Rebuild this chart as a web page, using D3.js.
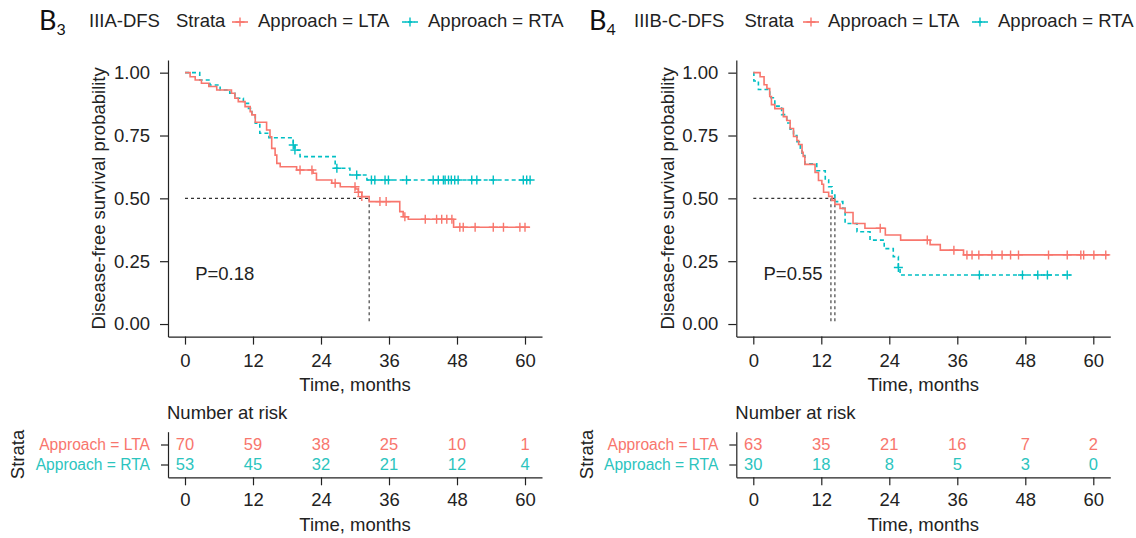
<!DOCTYPE html>
<html>
<head>
<meta charset="utf-8">
<script src="https://cdn.jsdelivr.net/npm/d3@7"></script>
<style>
  body { margin: 0; background: #fff; }
  svg text { font-family: "Liberation Sans", Arial, sans-serif; fill: #222; }
</style>
</head>
<body>
<svg id="chart" width="1136" height="538"></svg>
<script>
// ---- data ----
const timeTicks = [0, 12, 24, 36, 48, 60];
const survTicks = [0, 0.25, 0.5, 0.75, 1];
const strata = ["Approach = LTA", "Approach = RTA"];

// B3: IIIA-DFS   [time in months, survival]
const lta3Steps = [[0, 1], [0.9, 0.984], [1.8, 0.971], [2.9, 0.958], [4.2, 0.945], [5.6, 0.931], [8.2, 0.918],
  [8.8, 0.898], [9.4, 0.885], [10.6, 0.865], [11.5, 0.845], [11.8, 0.832], [12.4, 0.803], [14.4, 0.772],
  [15.0, 0.745], [15.3, 0.699], [15.9, 0.672], [16.2, 0.639], [16.8, 0.626], [19.7, 0.613], [22.6, 0.60],
  [23.2, 0.573], [25.9, 0.56], [27.4, 0.546], [30.1, 0.537], [30.6, 0.524], [31.2, 0.507], [32.5, 0.487],
  [37.9, 0.447], [38.5, 0.427], [39.4, 0.417], [47.4, 0.385]];
const lta3End = 60.9;
const lta3Censor = [20.3, 22.4, 26.5, 30.0, 30.6, 31.2, 34.4, 35.5, 38.8, 42.4, 44.4, 45.3, 46.2, 47.1,
  48.5, 49.1, 51.2, 54.4, 56.2, 59.1, 60];

const rta3Steps = [[0, 1], [2.6, 0.971], [4.4, 0.951], [6.2, 0.931], [7.9, 0.918], [8.8, 0.898], [10.3, 0.878],
  [11.2, 0.858], [11.8, 0.832], [12.4, 0.799], [13.2, 0.759], [14.8, 0.741], [19.1, 0.712], [19.4, 0.692],
  [20.3, 0.666], [26.5, 0.62], [29.1, 0.593], [32.1, 0.573]];
const rta3End = 61.2;
const rta3Censor = [19.1, 19.4, 26.8, 30.3, 32.9, 33.5, 35.3, 35.9, 39.1, 43.8, 44.7, 45.6, 45.9, 46.5, 47.0,
  47.6, 48.2, 50.6, 51.5, 54.4, 59.7, 60.3, 60.9];

const riskLta3 = [70, 59, 38, 25, 10, 1];
const riskRta3 = [53, 45, 32, 21, 12, 4];
const medians3 = [32.5];

// B4: IIIB-C-DFS
const lta4Steps = [[0, 1], [1.2, 0.984], [1.9, 0.952], [2.4, 0.937], [2.9, 0.905], [3.2, 0.873], [3.8, 0.857],
  [5.3, 0.825], [5.9, 0.81], [6.5, 0.778], [7.1, 0.746], [7.7, 0.73], [8.0, 0.714], [8.6, 0.683], [8.8, 0.667],
  [9.1, 0.635], [10.9, 0.603], [11.5, 0.571], [12.1, 0.556], [12.4, 0.524], [13.3, 0.508], [13.9, 0.492],
  [14.4, 0.476], [15.3, 0.46], [16.2, 0.444], [17.6, 0.40], [19.7, 0.381], [23.3, 0.354], [26.0, 0.334],
  [31.2, 0.316], [33.0, 0.294], [37.1, 0.275]];
const lta4End = 62.8;
const lta4Censor = [22.4, 30.7, 35.4, 37.7, 38.6, 39.8, 42.1, 43.9, 45.4, 46.8, 52.1, 55.4, 57.8, 58.3, 60.1, 62.2];

const rta4Steps = [[0, 1], [0.1, 0.967], [0.9, 0.933], [2.9, 0.9], [3.8, 0.867], [5.0, 0.833], [5.9, 0.8],
  [6.5, 0.775], [7.1, 0.75], [7.7, 0.725], [8.3, 0.7], [8.6, 0.67], [9.1, 0.637], [11.2, 0.61], [12.7, 0.573],
  [13.3, 0.546], [13.9, 0.513], [14.4, 0.487], [15.8, 0.46], [16.2, 0.40], [18.3, 0.367], [20.6, 0.334],
  [23.1, 0.30], [24.7, 0.268], [25.6, 0.225], [25.9, 0.195]];
const rta4End = 56;
const rta4Censor = [25.6, 39.9, 47.5, 50.2, 51.9, 55.4];

const riskLta4 = [63, 35, 21, 16, 7, 2];
const riskRta4 = [30, 18, 8, 5, 3, 0];
const medians4 = [13.7, 14.4];

const colors = { lta: "#F8766D", rta: "#00BFC4", rtaText: "#2CC4BE" };

const panels = [
  { sub: "3", title: "IIIA-DFS", p: "P=0.18", left: 168,
    lta: lta3Steps, ltaEnd: lta3End, ltaCens: lta3Censor,
    rta: rta3Steps, rtaEnd: rta3End, rtaCens: rta3Censor,
    riskLta: riskLta3, riskRta: riskRta3, medians: medians3,
    head: { b: 39, title: 89, strata: 176, key1: 240, lab1: 258, key2: 410, lab2: 428 } },
  { sub: "4", title: "IIIB-C-DFS", p: "P=0.55", left: 736.3,
    lta: lta4Steps, ltaEnd: lta4End, ltaCens: lta4Censor,
    rta: rta4Steps, rtaEnd: rta4End, rtaCens: rta4Censor,
    riskLta: riskLta4, riskRta: riskRta4, medians: medians4,
    head: { b: 589, title: 634, strata: 744.5, key1: 811, lab1: 828, key2: 980, lab2: 998 } }
];

// ---- drawing ----
const svg = d3.select("#chart");
const fs = 18.5;
const cross = "M-4.5,0H4.5M0,-4.5V4.5";

function survAt(steps, t) {
  let s = steps[0][1];
  for (const d of steps) { if (d[0] <= t) s = d[1]; }
  return s;
}

function drawPanel(p) {
  const g = svg.append("g");
  const x = d3.scaleLinear().domain([-3, 63]).range([p.left, p.left + 374]);
  const y = d3.scaleLinear().domain([-0.05, 1.05]).range([336.6, 60.1]);

  // header
  const h = p.head;
  const hy = 21;
  const bt = g.append("text").attr("x", h.b).attr("y", hy + 9)
    .style("font-family", "Lato, 'Open Sans', sans-serif").style("font-size", "27px").style("fill", "#111");
  bt.append("tspan").text("B");
  bt.append("tspan").attr("dy", 5).style("font-size", "16px").text(p.sub);

  g.append("text").attr("x", h.title).attr("y", hy).attr("dy", "0.35em").style("font-size", fs + "px").text(p.title);
  g.append("text").attr("x", h.strata).attr("y", hy).attr("dy", "0.35em").style("font-size", fs + "px").text("Strata");
  [[h.key1, colors.lta, null], [h.key2, colors.rta, "4,2"]].forEach(([kx, c, dash]) => {
    g.append("line").attr("x1", kx - 8).attr("x2", kx + 8).attr("y1", hy + 1).attr("y2", hy + 1)
      .attr("stroke", c).attr("stroke-width", 1.6).attr("stroke-dasharray", dash);
    g.append("path").attr("d", cross).attr("transform", `translate(${kx},${hy + 1})`)
      .attr("stroke", c).attr("stroke-width", 1.4).attr("fill", "none");
  });
  g.append("text").attr("x", h.lab1).attr("y", hy).attr("dy", "0.35em").style("font-size", fs + "px").text(strata[0]);
  g.append("text").attr("x", h.lab2).attr("y", hy).attr("dy", "0.35em").style("font-size", fs + "px").text(strata[1]);

  // axes
  const yAxis = g.append("g").attr("transform", `translate(${x(-3)},0)`)
    .call(d3.axisLeft(y).tickValues(survTicks).tickFormat(d3.format(".2f")).tickSize(8).tickPadding(10).tickSizeOuter(0));
  const xAxis = g.append("g").attr("transform", `translate(0,${y(-0.05)})`)
    .call(d3.axisBottom(x).tickValues(timeTicks).tickSize(8).tickPadding(9).tickSizeOuter(0));
  [yAxis, xAxis].forEach(a => {
    a.selectAll("path,line").attr("stroke", "#222").attr("stroke-width", 1.2);
    a.selectAll("text").style("font-size", fs + "px");
  });

  g.append("text").attr("transform", `translate(${p.left - 69},${y(0.5)}) rotate(-90)`)
    .attr("text-anchor", "middle").attr("dy", "0.35em").style("font-size", fs + "px")
    .text("Disease-free survival probability");
  g.append("text").attr("x", x(30)).attr("y", 390.5).attr("text-anchor", "middle")
    .style("font-size", fs + "px").text("Time, months");

  // median reference lines
  const medMax = d3.max(p.medians);
  g.append("line").attr("x1", x(0)).attr("x2", x(medMax)).attr("y1", y(0.5)).attr("y2", y(0.5))
    .attr("stroke", "#333").attr("stroke-width", 1.1).attr("stroke-dasharray", "3,3");
  p.medians.forEach(m => {
    g.append("line").attr("x1", x(m)).attr("x2", x(m)).attr("y1", y(0.5)).attr("y2", y(0))
      .attr("stroke", "#333").attr("stroke-width", 1.1).attr("stroke-dasharray", "3,3");
  });

  // curves
  const line = d3.line().x(d => x(d[0])).y(d => y(d[1])).curve(d3.curveStepAfter);
  const series = [
    { steps: p.rta, end: p.rtaEnd, cens: p.rtaCens, color: colors.rta, dash: "4,3" },
    { steps: p.lta, end: p.ltaEnd, cens: p.ltaCens, color: colors.lta, dash: null }
  ];
  series.forEach(s => {
    const pts = s.steps.concat([[s.end, s.steps[s.steps.length - 1][1]]]);
    g.append("path").datum(pts).attr("d", line).attr("fill", "none")
      .attr("stroke", s.color).attr("stroke-width", 1.6).attr("stroke-dasharray", s.dash);
    g.selectAll(null).data(s.cens).enter().append("path")
      .attr("d", cross)
      .attr("transform", t => `translate(${x(t)},${y(survAt(s.steps, t))})`)
      .attr("stroke", s.color).attr("stroke-width", 1.4).attr("fill", "none");
  });

  g.append("text").attr("x", x(1.8)).attr("y", y(0.2)).attr("dy", "0.35em")
    .style("font-size", fs + "px").text(p.p);

  // risk table
  g.append("text").attr("x", x(-3) - 1).attr("y", 413).attr("dy", "0.35em")
    .style("font-size", fs + "px").text("Number at risk");
  const ty = d3.scalePoint().domain(strata).range([431.7, 477.3]).padding(0.64);
  const tyAxis = g.append("g").attr("transform", `translate(${x(-3)},0)`)
    .call(d3.axisLeft(ty).tickSize(7).tickPadding(11).tickSizeOuter(0));
  tyAxis.selectAll("text").style("font-size", "15.6px")
    .style("fill", (d, i) => i === 0 ? colors.lta : colors.rtaText);
  const txAxis = g.append("g").attr("transform", "translate(0,477.3)")
    .call(d3.axisBottom(x).tickValues(timeTicks).tickSize(8).tickPadding(8).tickSizeOuter(0));
  txAxis.selectAll("text").style("font-size", fs + "px");
  [tyAxis, txAxis].forEach(a => a.selectAll("path,line").attr("stroke", "#222").attr("stroke-width", 1.2));

  const rows = [[p.riskLta, strata[0], colors.lta], [p.riskRta, strata[1], colors.rtaText]];
  rows.forEach(([vals, key, c]) => {
    g.selectAll(null).data(vals).enter().append("text")
      .attr("x", (d, i) => x(timeTicks[i])).attr("y", ty(key)).attr("dy", "0.36em")
      .attr("text-anchor", "middle").style("font-size", "16.5px").style("fill", c)
      .text(d => d);
  });

  g.append("text").attr("transform", `translate(${p.left - 150},${(431.7 + 477.3) / 2}) rotate(-90)`)
    .attr("text-anchor", "middle").attr("dy", "0.35em").style("font-size", fs + "px").text("Strata");
  g.append("text").attr("x", x(30)).attr("y", 531).attr("text-anchor", "middle")
    .style("font-size", fs + "px").text("Time, months");
}

panels.forEach(drawPanel);
</script>
</body>
</html>
